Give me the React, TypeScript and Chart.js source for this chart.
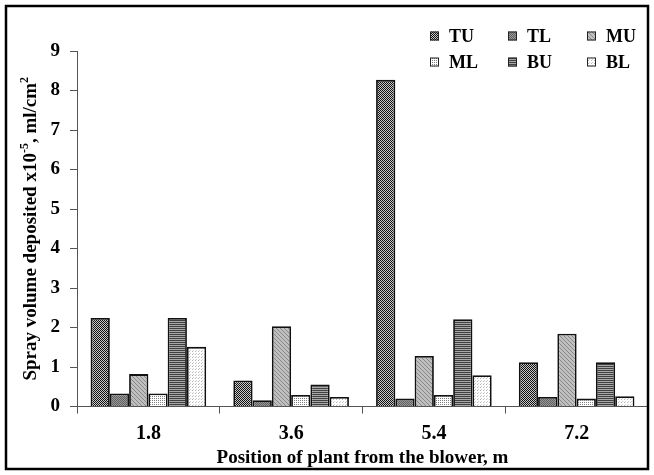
import React, { useEffect, useRef } from "react";
import { Chart, registerables } from "chart.js";

Chart.register(...registerables);

// ---- data ----
const categories = ["1.8", "3.6", "5.4", "7.2"];
const seriesNames = ["TU", "TL", "MU", "ML", "BU", "BL"];
const TU = [2.24, 0.66, 8.27, 1.12];
const TL = [0.33, 0.16, 0.2, 0.24];
const MU = [0.82, 2.03, 1.28, 1.84];
const ML = [0.33, 0.29, 0.29, 0.2];
const BU = [2.24, 0.56, 2.21, 1.12];
const BL = [1.51, 0.24, 0.79, 0.26];
const yMin = 0;
const yMax = 9;
const yStep = 1;
const xTitle = "Position of plant from the blower, m";
const yTitleParts = [
  { text: "Spray volume deposited x10", sup: false },
  { text: "-5", sup: true },
  { text: ", ml/cm", sup: false },
  { text: "2", sup: true },
];

const FONT = '"Liberation Serif", "Times New Roman", serif';

type Px = [number, number, string];
function makePattern(size: number, bg: string, px: Px[]): CanvasPattern | string {
  const c = document.createElement("canvas");
  c.width = size;
  c.height = size;
  const g = c.getContext("2d");
  if (!g) return bg;
  g.fillStyle = bg;
  g.fillRect(0, 0, size, size);
  px.forEach(([x, y, col]) => {
    g.fillStyle = col;
    g.fillRect(x, y, 1, 1);
  });
  const p = g.createPattern(c, "repeat");
  return p || bg;
}

function buildPatterns() {
  return [
    // TU: dark fine checker
    makePattern(2, "#111111", [[1, 0, "#c8c8c8"], [0, 1, "#c8c8c8"]]),
    // TL: mid gray stipple
    makePattern(2, "#5e5e5e", [[1, 0, "#9a9a9a"], [0, 1, "#9a9a9a"]]),
    // MU: light gray diagonal
    makePattern(4, "#c0c0c0", [[0, 0, "#868686"], [1, 1, "#868686"], [2, 2, "#868686"], [3, 3, "#868686"]]),
    // ML: white with dark dots
    makePattern(2, "#ffffff", [[0, 0, "#808080"]]),
    // BU: horizontal stripes
    makePattern(2, "#404040", [[0, 1, "#a8a8a8"], [1, 1, "#a8a8a8"]]),
    // BL: white with sparse light dots
    makePattern(3, "#ffffff", [[0, 0, "#b4b4b4"], [1, 2, "#d0d0d0"]]),
  ];
}

const framePlugin = {
  id: "frame",
  afterDraw(chart: any) {
    const ctx = chart.ctx as CanvasRenderingContext2D;
    ctx.save();
    ctx.strokeStyle = "#000";
    ctx.lineWidth = 2.5;
    ctx.strokeRect(6, 6, chart.width - 12, chart.height - 12);
    ctx.restore();
  },
};

const yTitlePlugin = {
  id: "yTitleSup",
  afterDraw(chart: any) {
    const ctx = chart.ctx as CanvasRenderingContext2D;
    const { top, bottom } = chart.chartArea;
    const cx = 31;
    const cy = (top + bottom) / 2;
    const mainFont = `bold 19px ${FONT}`;
    const supFont = `bold 12px ${FONT}`;
    ctx.save();
    let total = 0;
    const widths = yTitleParts.map((p) => {
      ctx.font = p.sup ? supFont : mainFont;
      const w = ctx.measureText(p.text).width;
      total += w;
      return w;
    });
    ctx.translate(cx, cy);
    ctx.rotate(-Math.PI / 2);
    ctx.fillStyle = "#000";
    ctx.textBaseline = "middle";
    ctx.textAlign = "left";
    let x = -total / 2;
    yTitleParts.forEach((p, i) => {
      ctx.font = p.sup ? supFont : mainFont;
      ctx.fillText(p.text, x, p.sup ? -6 : 0);
      x += widths[i];
    });
    ctx.restore();
  },
};

const legendPlugin = {
  id: "gridLegend",
  afterDraw(chart: any) {
    const ctx = chart.ctx as CanvasRenderingContext2D;
    const cols = [430, 508, 587];
    const rows = [36, 62];
    ctx.save();
    chart.data.datasets.forEach((ds: any, i: number) => {
      const x = cols[i % 3];
      const y = rows[Math.floor(i / 3)];
      ctx.fillStyle = ds.backgroundColor;
      ctx.fillRect(x, y - 4.5, 9, 9);
      ctx.strokeStyle = "#222";
      ctx.lineWidth = 1;
      ctx.strokeRect(x + 0.5, y - 4, 8, 8);
      ctx.fillStyle = "#000";
      ctx.font = `bold 18px ${FONT}`;
      ctx.textBaseline = "middle";
      ctx.textAlign = "left";
      ctx.fillText(ds.label, x + 19, y + 1);
    });
    ctx.restore();
  },
};

export default function App() {
  const ref = useRef<HTMLCanvasElement | null>(null);

  useEffect(() => {
    if (!ref.current) return;
    const patterns = buildPatterns();
    const values = [TU, TL, MU, ML, BU, BL];
    const chart = new Chart(ref.current, {
      type: "bar",
      data: {
        labels: categories,
        datasets: seriesNames.map((name, i) => ({
          label: name,
          data: values[i],
          backgroundColor: patterns[i] as any,
          borderColor: "#111",
          borderWidth: 1.8,
          categoryPercentage: 0.81,
          barPercentage: 1.0,
        })),
      },
      options: {
        responsive: false,
        animation: false,
        layout: { padding: { left: 0, right: 6, top: 51, bottom: 0 } },
        plugins: {
          legend: { display: false },
          tooltip: { enabled: false },
          title: { display: false },
        },
        scales: {
          x: {
            afterFit(scale: any) {
              scale.height = 68.5;
            },
            grid: {
              offset: true,
              drawOnChartArea: false,
              drawTicks: true,
              tickLength: 7,
              color: "#555",
            },
            border: { color: "#555", width: 1 },
            ticks: {
              color: "#000",
              font: { family: FONT, size: 20, weight: "bold" },
              padding: 8,
            },
            title: {
              display: true,
              text: xTitle,
              color: "#000",
              font: { family: FONT, size: 19, weight: "bold" },
              padding: { top: 2, bottom: 6 },
            },
          },
          y: {
            min: yMin,
            max: yMax,
            afterFit(scale: any) {
              scale.width = 77;
            },
            grid: {
              drawOnChartArea: false,
              drawTicks: true,
              tickLength: 7,
              color: "#555",
            },
            border: { color: "#555", width: 1 },
            ticks: {
              stepSize: yStep,
              color: "#000",
              font: { family: FONT, size: 19, weight: "bold" },
              padding: 10,
            },
          },
        },
      },
      plugins: [legendPlugin, yTitlePlugin, framePlugin],
    });
    return () => chart.destroy();
  }, []);

  return (
    <div style={{ position: "fixed", left: 0, top: 0, width: 654, height: 475, background: "#fff" }}>
      <canvas ref={ref} width={654} height={475} />
    </div>
  );
}
